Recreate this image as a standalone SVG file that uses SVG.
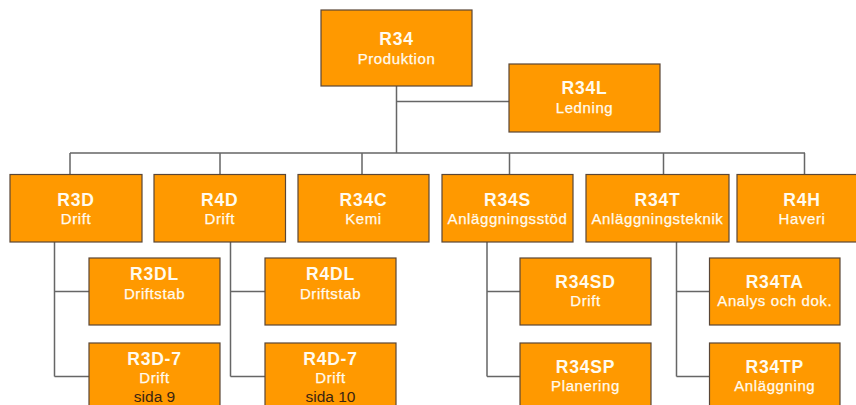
<svg xmlns="http://www.w3.org/2000/svg" width="856" height="405" viewBox="0 0 856 405">
<style>
.box{fill:#FF9900;stroke:#5A4636;stroke-width:1.2}
.t{font-family:"Liberation Sans",Arial,sans-serif;font-weight:bold;font-size:17.5px;fill:#FFFBEF;text-anchor:middle;letter-spacing:0.8px}
.s{font-family:"Liberation Sans",Arial,sans-serif;font-size:15px;fill:#FFFBEF;text-anchor:middle;letter-spacing:0.6px;stroke:#FFFBEF;stroke-width:0.25}
.p{font-family:"Liberation Sans",Arial,sans-serif;font-size:15.5px;fill:#3A2412;text-anchor:middle}
.c{fill:none;stroke:#666;stroke-width:1.5}
</style>
<rect width="856" height="405" fill="#fff"/>
<g id="connectors">
<path class="c" d="M396.5 86V153M396.5 101.5H509M70 153H805M70 153V174.5M220 153V174.5M362 153V174.5M509.5 153V174.5M663.5 153V174.5M804.5 153V174.5"/>
<path class="c" d="M54.5 242V376.5M54.5 291.5H89M54.5 376.5H89"/>
<path class="c" d="M230.5 242V376.5M230.5 291.5H265M230.5 376.5H265"/>
<path class="c" d="M487 242V376.5M487 291.5H520M487 376.5H520"/>
<path class="c" d="M676.5 242V376.5M676.5 291.5H709.5M676.5 376.5H709.5"/>
</g>
<g id="R34"><rect class="box" x="321" y="10" width="151" height="76"/><text class="t" x="396.5" y="45">R34</text><text class="s" x="396.5" y="63.5">Produktion</text></g>
<g id="R34L"><rect class="box" x="509" y="64" width="151" height="68"/><text class="t" x="584.5" y="94">R34L</text><text class="s" x="584.5" y="112.5">Ledning</text></g>
<g id="R3D"><rect class="box" x="10" y="174.5" width="132" height="67.5"/><text class="t" x="76" y="205.5">R3D</text><text class="s" x="76" y="223.5">Drift</text></g>
<g id="R4D"><rect class="box" x="154" y="174.5" width="131.5" height="67.5"/><text class="t" x="219.75" y="205.5">R4D</text><text class="s" x="219.75" y="223.5">Drift</text></g>
<g id="R34C"><rect class="box" x="298" y="174.5" width="131" height="67.5"/><text class="t" x="363.5" y="205.5">R34C</text><text class="s" x="363.5" y="223.5">Kemi</text></g>
<g id="R34S"><rect class="box" x="442" y="174.5" width="131" height="67.5"/><text class="t" x="507.5" y="205.5">R34S</text><text class="s" x="507.5" y="223.5">Anläggningsstöd</text></g>
<g id="R34T"><rect class="box" x="586" y="174.5" width="143" height="67.5"/><text class="t" x="657.5" y="205.5">R34T</text><text class="s" x="657.5" y="223.5">Anläggningsteknik</text></g>
<g id="R4H"><rect class="box" x="737" y="174.5" width="130" height="67.5"/><text class="t" x="802" y="205.5">R4H</text><text class="s" x="802" y="223.5">Haveri</text></g>
<g id="R3DL"><rect class="box" x="89" y="258" width="131" height="67"/><text class="t" x="154.5" y="280">R3DL</text><text class="s" x="154.5" y="298.5">Driftstab</text></g>
<g id="R3D-7"><rect class="box" x="89" y="343" width="131" height="70"/><text class="t" x="154.5" y="364.5">R3D-7</text><text class="s" x="154.5" y="383">Drift</text><text class="p" x="154.5" y="401.5">sida 9</text></g>
<g id="R4DL"><rect class="box" x="265" y="258" width="131" height="67"/><text class="t" x="330.5" y="280">R4DL</text><text class="s" x="330.5" y="298.5">Driftstab</text></g>
<g id="R4D-7"><rect class="box" x="265" y="343" width="131" height="70"/><text class="t" x="330.5" y="364.5">R4D-7</text><text class="s" x="330.5" y="383">Drift</text><text class="p" x="330.5" y="401.5">sida 10</text></g>
<g id="R34SD"><rect class="box" x="520" y="258" width="131" height="67"/><text class="t" x="585.5" y="287.5">R34SD</text><text class="s" x="585.5" y="306">Drift</text></g>
<g id="R34SP"><rect class="box" x="520" y="343" width="131" height="70"/><text class="t" x="585.5" y="372.5">R34SP</text><text class="s" x="585.5" y="391">Planering</text></g>
<g id="R34TA"><rect class="box" x="709.5" y="258" width="130.5" height="67"/><text class="t" x="774.75" y="287.5">R34TA</text><text class="s" x="774.75" y="306">Analys och dok.</text></g>
<g id="R34TP"><rect class="box" x="709.5" y="343" width="130.5" height="70"/><text class="t" x="774.75" y="372.5">R34TP</text><text class="s" x="774.75" y="391">Anläggning</text></g>
</svg>
